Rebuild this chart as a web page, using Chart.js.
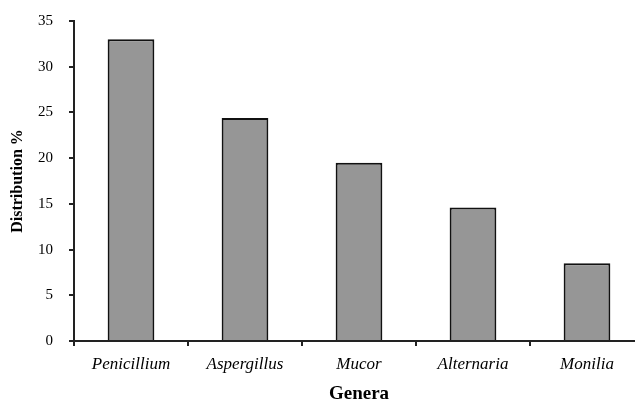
<!DOCTYPE html>
<html>
<head>
<meta charset="utf-8">
<script src="https://cdn.jsdelivr.net/npm/chart.js@4"></script>
<style>
  html, body { margin: 0; padding: 0; background: #fff; overflow: hidden; }
  #wrap { width: 645px; height: 400px; }
</style>
</head>
<body>
<div id="wrap"><canvas id="genera-chart" width="645" height="400"></canvas></div>
<script>
const genera = ['Penicillium', 'Aspergillus', 'Mucor', 'Alternaria', 'Monilia'];
const distribution = [33, 24.4, 19.5, 14.6, 8.5];
const yTicks = [0, 5, 10, 15, 20, 25, 30, 35];

const serif = "'Liberation Serif', 'Times New Roman', serif";

const ctx = document.getElementById('genera-chart').getContext('2d');

new Chart(ctx, {
  type: 'bar',
  data: {
    labels: genera,
    datasets: [{
      label: 'Distribution %',
      data: distribution,
      backgroundColor: '#969696',
      borderColor: '#111',
      borderWidth: 2,
      categoryPercentage: 0.41,
      barPercentage: 1
    }]
  },
  options: {
    responsive: false,
    animation: false,
    layout: { padding: { top: 21, left: 0, right: 1, bottom: 0 } },
    plugins: { legend: { display: false }, tooltip: { enabled: false } },
    scales: {
      x: {
        grid: { offset: true, drawOnChartArea: false, drawTicks: true, tickLength: 5, color: '#222', lineWidth: 2 },
        border: { display: true, color: '#222', width: 2 },
        ticks: { color: '#000', padding: 8, font: { family: serif, size: 17, style: 'italic' } },
        title: { display: true, text: 'Genera', color: '#000', padding: { top: 0, bottom: -5 }, font: { family: serif, size: 19, weight: 'bold' } },
        afterFit: s => { s.height = 59; s.paddingLeft = 0; s.paddingRight = 0; }
      },
      y: {
        min: 0,
        max: 35,
        afterBuildTicks: s => { s.ticks = yTicks.map(v => ({ value: v })); },
        grid: { drawOnChartArea: false, drawTicks: true, tickLength: 5, color: '#222', lineWidth: 2 },
        border: { display: true, color: '#222', width: 2 },
        ticks: { color: '#000', padding: 16, font: { family: serif, size: 15 } },
        title: { display: true, text: 'Distribution %', color: '#000', padding: { top: 8, bottom: 0 }, font: { family: serif, size: 16, weight: 'bold' } },
        afterFit: s => { s.width = 74; s.paddingTop = 0; s.paddingBottom = 0; }
      }
    }
  }
});
</script>
</body>
</html>
